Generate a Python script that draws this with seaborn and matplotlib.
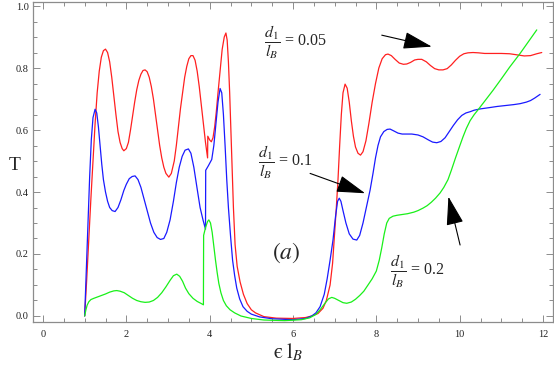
import numpy as np
import pandas as pd
import matplotlib
matplotlib.use("Agg")
import matplotlib.pyplot as plt
import seaborn as sns
from matplotlib.ticker import MultipleLocator

# ---- data ----
red_x = [1.0, 1.05, 1.1, 1.15, 1.2, 1.25, 1.3, 1.35, 1.4, 1.45, 1.5, 1.55, 1.6, 1.65, 1.7, 1.75, 1.8, 1.85,
         1.9, 1.94, 2.0, 2.05, 2.1, 2.15, 2.2, 2.25, 2.3, 2.35, 2.4, 2.45, 2.5, 2.55, 2.6, 2.65, 2.7, 2.75,
         2.8, 2.85, 2.9, 2.95, 3.02, 3.08, 3.15, 3.2, 3.25, 3.3, 3.35, 3.4, 3.45, 3.5, 3.55, 3.6, 3.65, 3.7,
         3.75, 3.8, 3.85, 3.9, 3.95, 3.955, 4.0, 4.04, 4.08, 4.12, 4.16, 4.2, 4.25, 4.3, 4.35, 4.39, 4.42,
         4.45, 4.48, 4.51, 4.54, 4.57, 4.61, 4.66, 4.73, 4.81, 4.9, 5.0, 5.1, 5.3, 5.6, 6.0, 6.3, 6.45, 6.6,
         6.72, 6.8, 6.89, 6.95, 7.0, 7.04, 7.08, 7.12, 7.16, 7.2, 7.25, 7.3, 7.35, 7.4, 7.45, 7.5, 7.56,
         7.62, 7.68, 7.75, 7.82, 7.9, 7.98, 8.06, 8.14, 8.22, 8.28, 8.36, 8.45, 8.55, 8.65, 8.73, 8.82,
         8.92, 9.0, 9.09, 9.2, 9.3, 9.4, 9.5, 9.6, 9.7, 9.8, 9.9, 10.0, 10.1, 10.2, 10.32, 10.45, 10.6,
         10.8, 11.0, 11.2, 11.4, 11.55, 11.7, 11.85, 11.97]
red_y = [0.0, 0.12, 0.25, 0.38, 0.5, 0.62, 0.72, 0.79, 0.835, 0.856, 0.861, 0.85, 0.82, 0.77, 0.71, 0.65,
         0.595, 0.56, 0.54, 0.533, 0.54, 0.56, 0.6, 0.645, 0.69, 0.73, 0.76, 0.78, 0.792, 0.794, 0.788,
         0.77, 0.74, 0.70, 0.65, 0.60, 0.55, 0.51, 0.48, 0.46, 0.448, 0.46, 0.50, 0.55, 0.61, 0.67, 0.72,
         0.77, 0.805, 0.83, 0.84, 0.84, 0.825, 0.79, 0.74, 0.68, 0.62, 0.56, 0.51, 0.58, 0.568, 0.562,
         0.575, 0.61, 0.66, 0.72, 0.79, 0.86, 0.90, 0.913, 0.89, 0.82, 0.72, 0.60, 0.47, 0.35, 0.23, 0.16,
         0.11, 0.07, 0.04, 0.02, 0.01, -0.002, -0.007, -0.008, -0.005, 0.0, 0.008, 0.025, 0.05, 0.10,
         0.17, 0.27, 0.35, 0.44, 0.55, 0.65, 0.72, 0.748, 0.735, 0.69, 0.63, 0.58, 0.545, 0.525, 0.519,
         0.53, 0.565, 0.62, 0.69, 0.75, 0.80, 0.83, 0.843, 0.845, 0.84, 0.828, 0.816, 0.812, 0.813, 0.818,
         0.826, 0.828, 0.828, 0.82, 0.808, 0.798, 0.794, 0.794, 0.798, 0.81, 0.825, 0.838, 0.846, 0.849,
         0.85, 0.849, 0.847, 0.847, 0.847, 0.846, 0.842, 0.839, 0.84, 0.846, 0.85]

blue_x = [1.0, 1.04, 1.08, 1.12, 1.16, 1.2, 1.25, 1.29, 1.33, 1.37, 1.41, 1.45, 1.5, 1.55, 1.6, 1.66, 1.73,
          1.8, 1.87, 1.94, 2.0, 2.07, 2.14, 2.21, 2.28, 2.35, 2.42, 2.5, 2.58, 2.66, 2.74, 2.82, 2.9, 2.97,
          3.05, 3.13, 3.2, 3.27, 3.34, 3.41, 3.49, 3.55, 3.62, 3.7, 3.77, 3.84, 3.9, 3.905, 3.97, 4.05, 4.1,
          4.15, 4.2, 4.25, 4.29, 4.33, 4.37, 4.41, 4.45, 4.5, 4.55, 4.6, 4.65, 4.72, 4.8, 4.9, 5.0, 5.2, 5.5,
          6.0, 6.3, 6.45, 6.55, 6.65, 6.75, 6.82, 6.89, 6.96, 7.02, 7.07, 7.11, 7.15, 7.2, 7.27, 7.35, 7.44,
          7.53, 7.6, 7.68, 7.76, 7.85, 7.92, 7.98, 8.04, 8.1, 8.18, 8.26, 8.33, 8.42, 8.52, 8.62, 8.73, 8.85,
          9.0, 9.12, 9.25, 9.35, 9.45, 9.55, 9.65, 9.75, 9.85, 9.95, 10.05, 10.15, 10.25, 10.35, 10.49, 10.7,
          10.9, 11.1, 11.3, 11.45, 11.6, 11.7, 11.8, 11.93]
blue_y = [0.0, 0.15, 0.3, 0.45, 0.57, 0.64, 0.667, 0.655, 0.61, 0.55, 0.49, 0.44, 0.40, 0.37, 0.35, 0.34,
          0.337, 0.35, 0.375, 0.405, 0.425, 0.443, 0.45, 0.452, 0.44, 0.415, 0.38, 0.34, 0.30, 0.27, 0.253,
          0.247, 0.25, 0.27, 0.31, 0.37, 0.43, 0.48, 0.515, 0.535, 0.539, 0.525, 0.48, 0.41, 0.35, 0.31,
          0.28, 0.47, 0.485, 0.505, 0.55, 0.62, 0.69, 0.734, 0.72, 0.65, 0.55, 0.44, 0.35, 0.26, 0.18, 0.13,
          0.09, 0.055, 0.03, 0.015, 0.006, -0.003, -0.009, -0.012, -0.008, 0.0, 0.01, 0.03, 0.07, 0.12,
          0.18, 0.245, 0.32, 0.37, 0.38, 0.37, 0.34, 0.30, 0.265, 0.248, 0.245, 0.26, 0.30, 0.35, 0.406,
          0.46, 0.51, 0.55, 0.578, 0.595, 0.602, 0.603, 0.597, 0.59, 0.587, 0.587, 0.587, 0.584, 0.578,
          0.568, 0.561, 0.559, 0.563, 0.575, 0.595, 0.615, 0.633, 0.647, 0.655, 0.659, 0.664, 0.668, 0.672,
          0.676, 0.679, 0.682, 0.685, 0.69, 0.695, 0.703, 0.715]

green_x = [1.0, 1.03, 1.06, 1.1, 1.15, 1.22, 1.3, 1.4, 1.5, 1.6, 1.7, 1.77, 1.85, 1.95, 2.05, 2.15, 2.25,
           2.35, 2.45, 2.55, 2.65, 2.75, 2.85, 2.95, 3.05, 3.13, 3.21, 3.28, 3.35, 3.42, 3.5, 3.6, 3.7, 3.8,
           3.85, 3.855, 3.9, 3.95, 3.98, 4.02, 4.06, 4.1, 4.14, 4.18, 4.22, 4.27, 4.33, 4.4, 4.49, 4.6, 4.75,
           5.0, 5.3, 5.8, 6.2, 6.4, 6.55, 6.65, 6.75, 6.85, 6.93, 7.0, 7.1, 7.2, 7.29, 7.4, 7.5, 7.6, 7.7,
           7.8, 7.9, 8.0, 8.07, 8.13, 8.19, 8.25, 8.31, 8.4, 8.5, 8.6, 8.75, 8.9, 9.0, 9.12, 9.22, 9.32,
           9.42, 9.53, 9.62, 9.72, 9.8, 9.9, 10.0, 10.08, 10.16, 10.25, 10.35, 10.44, 10.6, 10.8, 11.0,
           11.2, 11.45, 11.65, 11.85]
green_y = [0.0, 0.02, 0.035, 0.046, 0.053, 0.057, 0.061, 0.066, 0.071, 0.077, 0.081, 0.082, 0.08, 0.075,
           0.066, 0.057, 0.05, 0.046, 0.044, 0.045, 0.05, 0.06, 0.075, 0.094, 0.115, 0.13, 0.135, 0.128,
           0.112, 0.09, 0.072, 0.057, 0.047, 0.04, 0.036, 0.26, 0.285, 0.305, 0.31, 0.30, 0.27, 0.225, 0.18,
           0.14, 0.105, 0.075, 0.05, 0.033, 0.02, 0.01, 0.0, -0.008, -0.013, -0.015, -0.012, -0.006, 0.005,
           0.02, 0.038, 0.055, 0.06, 0.057, 0.05, 0.043, 0.041, 0.045, 0.054, 0.066, 0.08, 0.10, 0.12,
           0.145, 0.18, 0.22, 0.265, 0.30, 0.315, 0.322, 0.325, 0.327, 0.33, 0.335, 0.34, 0.348, 0.356,
           0.367, 0.38, 0.397, 0.415, 0.44, 0.47, 0.51, 0.548, 0.578, 0.605, 0.63, 0.65, 0.665, 0.693,
           0.728, 0.765, 0.803, 0.847, 0.885, 0.923]

series_labels = ["0.05", "0.1", "0.2"]
series_colors = ["#ff2020", "#1a1aff", "#19f019"]

x_ticks = [0, 2, 4, 6, 8, 10, 12]
y_ticks = [0.0, 0.2, 0.4, 0.6, 0.8, 1.0]

# ---- build table ----
frames = []
for lab, xs, ys in zip(series_labels, [red_x, blue_x, green_x], [red_y, blue_y, green_y]):
    frames.append(pd.DataFrame({"x": xs, "T": ys, "d": lab}))
df = pd.concat(frames, ignore_index=True)

sns.set_style("ticks")
plt.rcParams["font.family"] = ["Liberation Serif", "DejaVu Serif"]
plt.rcParams["mathtext.fontset"] = "stix"

fig = plt.figure(figsize=(5.54, 3.65), dpi=100)
ax = fig.add_axes([33 / 554, 1 - 322 / 365, 520 / 554, 320 / 365])

sns.lineplot(data=df, x="x", y="T", hue="d", palette=dict(zip(series_labels, series_colors)),
             estimator=None, sort=False, lw=0.9, legend=False, ax=ax)

ax.set_xlim(-0.24, 12.24)
ax.set_ylim(-0.0194, 1.013)
ax.set_xticks(x_ticks)
ax.set_xticklabels([str(v) for v in x_ticks])
ax.set_yticks(y_ticks)
ax.set_yticklabels([f"{v:.1f}" for v in y_ticks])
ax.xaxis.set_minor_locator(MultipleLocator(0.5))
ax.yaxis.set_minor_locator(MultipleLocator(0.05))

frame_col = "#8c8c8c"
for s in ax.spines.values():
    s.set_color(frame_col)
    s.set_linewidth(0.9)
ax.tick_params(which="both", direction="in", top=True, right=True, colors=frame_col,
               labelcolor="#222222", labelsize=7.5, width=0.7)
ax.tick_params(which="major", length=5)
ax.tick_params(which="minor", length=2.8)
ax.tick_params(axis="x", pad=6)
ax.tick_params(axis="y", pad=3)

ax.set_xlabel("$\\mathrm{\u03f5}\\;\\mathrm{l}_{B}$", fontsize=15)
ax.set_ylabel("T", fontsize=14, rotation=0, va="center")
ax.yaxis.set_label_coords(-0.035, 0.49)
ax.xaxis.set_label_coords(0.49, -0.062)

# annotations
tfs = 11.5
ax.text(5.3, 0.882, r"$\dfrac{d_1}{l_B}$ = 0.05", fontsize=tfs, va="center", ha="left")
ax.text(5.16, 0.497, r"$\dfrac{d_1}{l_B}$ = 0.1", fontsize=tfs, va="center", ha="left")
ax.text(8.34, 0.145, r"$\dfrac{d_1}{l_B}$ = 0.2", fontsize=tfs, va="center", ha="left")
ax.text(5.83, 0.204, r"$(a)$", fontsize=17, va="center", ha="center")

ap = dict(arrowstyle="-|>,head_length=1.0,head_width=0.3", color="black", lw=0.8,
          shrinkA=0, shrinkB=0, mutation_scale=18)
ax.annotate("", xy=(9.33, 0.869), xytext=(8.13, 0.906), arrowprops=ap)
ax.annotate("", xy=(7.73, 0.396), xytext=(6.41, 0.46), arrowprops=ap)
ax.annotate("", xy=(9.73, 0.385), xytext=(10.01, 0.229), arrowprops=ap)

fig.savefig("out.png", dpi=100)
